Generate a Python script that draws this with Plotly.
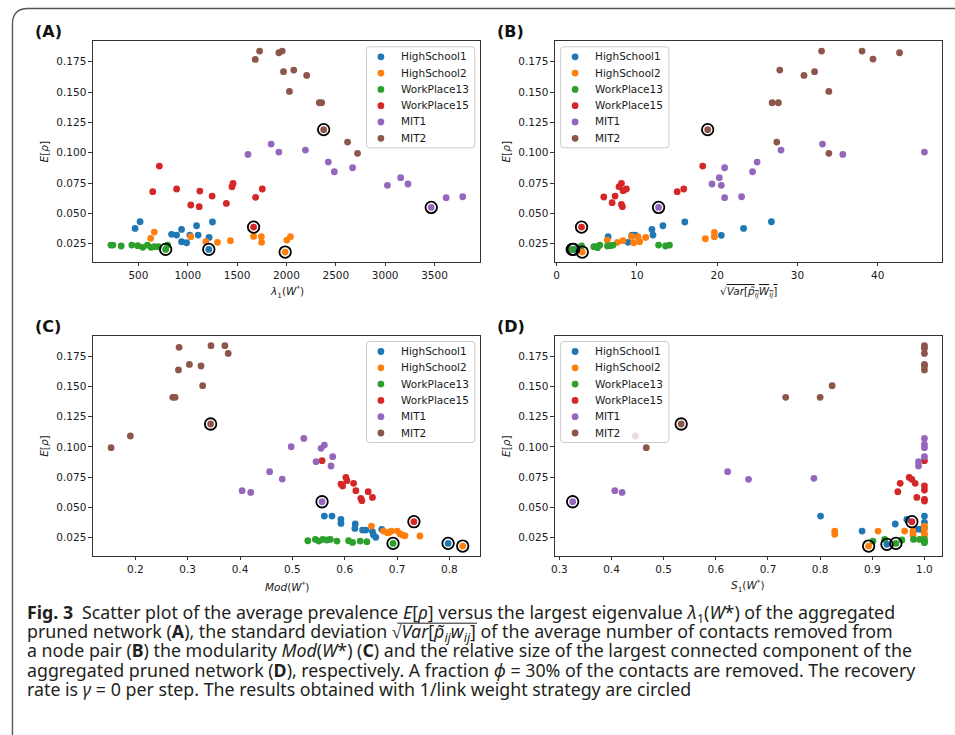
import plotly.graph_objects as go

W, H = 955, 735

datasets = ["HighSchool1", "HighSchool2", "WorkPlace13", "WorkPlace15", "MIT1", "MIT2"]
colors = ["#1f77b4", "#ff7f0e", "#2ca02c", "#d62728", "#9467bd", "#8c564b"]

# ---------------- Panel A : lambda_1(W*) ----------------
a_hs1_x = [466, 517, 836, 887, 937, 937, 988, 1021, 1089, 1105, 1216, 1250]
a_hs1_y = [0.0376, 0.0431, 0.0327, 0.0321, 0.0368, 0.0266, 0.0258, 0.0321, 0.0398, 0.0321, 0.0302, 0.0429]
a_hs2_x = [624, 661, 1031, 1183, 1301, 1432, 1667, 1745, 1748, 2004, 2040]
a_hs2_y = [0.0294, 0.0346, 0.0308, 0.0266, 0.0261, 0.0275, 0.0310, 0.0308, 0.0261, 0.0280, 0.0308]
a_wp13_x = [221, 241, 325, 433, 493, 544, 591, 628, 661, 702, 796]
a_wp13_y = [0.0239, 0.0239, 0.0231, 0.0239, 0.0234, 0.0220, 0.0239, 0.0220, 0.0225, 0.0225, 0.0239]
a_wp15_x = [712, 645, 887, 1122, 1031, 1116, 1247, 1391, 1448, 1459, 1687, 1755]
a_wp15_y = [0.0890, 0.0679, 0.0701, 0.0684, 0.0569, 0.0555, 0.0643, 0.0582, 0.0720, 0.0747, 0.0632, 0.0701]
a_mit1_x = [1610, 1845, 1923, 2192, 2424, 2485, 2670, 3023, 3157, 3231, 3618, 3786]
a_mit1_y = [0.0986, 0.1071, 0.1005, 0.1022, 0.0923, 0.0843, 0.0876, 0.0731, 0.0794, 0.0742, 0.0629, 0.0637]
a_mit2_x = [1684, 1728, 1923, 1957, 1970, 2074, 2205, 2030, 2333, 2357, 2619, 2720]
a_mit2_y = [0.1769, 0.1838, 0.1824, 0.1838, 0.1668, 0.1681, 0.1637, 0.1505, 0.1412, 0.1412, 0.1088, 0.0995]
a_circ_x = [1213, 1987, 776, 1667, 3467, 2377]
a_circ_y = [0.0203, 0.0181, 0.0203, 0.0387, 0.0549, 0.1190]

# ---------------- Panel B : sqrt(Var[p_ij W_ij]) ----------------
b_hs1_x = [6.41, 8.89, 9.39, 9.80, 11.87, 12.0, 13.24, 15.97, 20.52, 23.29, 26.76]
b_hs1_y = [0.0308, 0.0261, 0.0321, 0.0321, 0.0368, 0.0321, 0.0398, 0.0429, 0.0319, 0.0376, 0.0431]
b_hs2_x = [6.29, 7.57, 8.27, 9.31, 9.60, 10.13, 10.34, 11.09, 18.53, 19.65, 19.65]
b_hs2_y = [0.0280, 0.0261, 0.0275, 0.0310, 0.0258, 0.0308, 0.0266, 0.0302, 0.0291, 0.0343, 0.0308]
b_wp13_x = [3.10, 4.63, 4.90, 5.09, 5.38, 6.33, 6.70, 7.03, 12.70, 13.57, 14.06]
b_wp13_y = [0.0231, 0.0225, 0.0225, 0.0217, 0.0239, 0.0231, 0.0234, 0.0239, 0.0239, 0.0231, 0.0239]
b_wp15_x = [5.87, 6.91, 7.28, 7.78, 8.07, 8.07, 8.19, 8.27, 8.69, 15.02, 15.84, 18.20]
b_wp15_y = [0.0635, 0.0588, 0.0643, 0.0720, 0.0747, 0.0574, 0.0555, 0.0687, 0.0701, 0.0679, 0.0701, 0.0890]
b_mit1_x = [19.36, 20.27, 20.52, 20.93, 20.93, 23.04, 24.41, 24.98, 27.96, 33.13, 35.66, 45.83]
b_mit1_y = [0.0742, 0.0794, 0.0731, 0.0876, 0.0629, 0.0637, 0.0843, 0.0923, 0.1022, 0.1071, 0.0986, 0.1005]
b_mit2_x = [26.85, 27.63, 27.80, 27.43, 30.82, 32.14, 33.01, 33.92, 33.92, 38.06, 39.42, 42.73]
b_mit2_y = [0.1412, 0.1412, 0.1681, 0.1088, 0.1637, 0.1668, 0.1838, 0.1505, 0.0995, 0.1838, 0.1772, 0.1824]
b_circ_x = [2.10, 3.19, 1.94, 3.10, 12.70, 18.82]
b_circ_y = [0.0203, 0.0181, 0.0203, 0.0387, 0.0549, 0.1190]

# ---------------- Panel C : Mod(W*) ----------------
c_hs1_x = [0.5611, 0.5757, 0.5928, 0.5928, 0.6201, 0.6194, 0.6340, 0.6403, 0.6530, 0.6549, 0.6594, 0.6708]
c_hs1_y = [0.0429, 0.0429, 0.0401, 0.0368, 0.0363, 0.0327, 0.0313, 0.0313, 0.0300, 0.0272, 0.0253, 0.0319]
c_hs2_x = [0.6511, 0.6739, 0.6815, 0.6847, 0.6891, 0.7005, 0.7056, 0.7100, 0.7151, 0.7436]
c_hs2_y = [0.0346, 0.0305, 0.0291, 0.0294, 0.0305, 0.0305, 0.0283, 0.0272, 0.0266, 0.0264]
c_wp13_x = [0.5295, 0.5440, 0.5504, 0.5580, 0.5662, 0.5726, 0.5852, 0.6074, 0.6150, 0.6296, 0.6423]
c_wp13_y = [0.0225, 0.0236, 0.0222, 0.0236, 0.0231, 0.0236, 0.0222, 0.0225, 0.0211, 0.0222, 0.0217]
c_wp15_x = [0.5567, 0.5928, 0.5960, 0.6023, 0.6042, 0.6169, 0.6213, 0.6308, 0.6327, 0.6448, 0.6530]
c_wp15_y = [0.0886, 0.0693, 0.0677, 0.0748, 0.0721, 0.0699, 0.0638, 0.0575, 0.0556, 0.0630, 0.0583]
c_mit1_x = [0.4040, 0.4205, 0.4566, 0.4807, 0.4978, 0.5219, 0.5453, 0.5548, 0.5611, 0.5738, 0.5770]
c_mit1_y = [0.0638, 0.0624, 0.0795, 0.0734, 0.1001, 0.1070, 0.0878, 0.0988, 0.1015, 0.0842, 0.0919]
c_mit2_x = [0.1537, 0.1905, 0.2716, 0.2760, 0.2824, 0.2836, 0.3033, 0.3255, 0.3286, 0.3445, 0.3711, 0.3774]
c_mit2_y = [0.0993, 0.1090, 0.1409, 0.1409, 0.1635, 0.1822, 0.1681, 0.1668, 0.1505, 0.1836, 0.1836, 0.1772]
c_circ_x = [0.7975, 0.8254, 0.6923, 0.7322, 0.5567, 0.3438]
c_circ_y = [0.0203, 0.0181, 0.0203, 0.0382, 0.0547, 0.1189]

# ---------------- Panel D : S1(W*) ----------------
d_hs1_x = [0.8008, 0.8804, 0.9440, 0.9663, 0.9841, 0.9917, 1.0, 1.0, 1.0]
d_hs1_y = [0.0429, 0.0305, 0.0363, 0.0401, 0.0320, 0.0320, 0.0429, 0.0377, 0.0333]
d_hs2_x = [0.828, 0.828, 0.911, 0.962, 0.978, 0.978, 1.0, 1.0, 1.0, 1.0]
d_hs2_y = [0.0305, 0.0278, 0.0305, 0.0305, 0.0305, 0.0272, 0.0346, 0.0322, 0.0286, 0.0264]
d_wp13_x = [0.9014, 0.9237, 0.9567, 0.9790, 0.9904, 1.0, 1.0, 1.0]
d_wp13_y = [0.0222, 0.0236, 0.0231, 0.0236, 0.0236, 0.0236, 0.0217, 0.0209]
d_wp15_x = [0.949, 0.9535, 0.9708, 0.9759, 0.9822, 0.9854, 1.0, 1.0, 1.0, 1.0, 1.0]
d_wp15_y = [0.0630, 0.0699, 0.0748, 0.0732, 0.0699, 0.0583, 0.0886, 0.0677, 0.0644, 0.0567, 0.0553]
d_mit1_x = [0.4063, 0.4203, 0.6226, 0.6627, 0.7881, 1.0, 1.0, 1.0, 1.0, 0.9886, 0.9886]
d_mit1_y = [0.0638, 0.0624, 0.0795, 0.0732, 0.0740, 0.1070, 0.1021, 0.0993, 0.0919, 0.0878, 0.0842]
d_mit2_x = [0.4457, 0.4667, 0.734, 0.800, 0.823, 1.0, 1.0, 1.0, 1.0, 1.0, 1.0]
d_mit2_y = [0.1090, 0.0993, 0.1409, 0.1409, 0.1505, 0.1836, 0.1814, 0.1772, 0.1681, 0.1668, 0.1635]
d_circ_x = [0.9281, 0.893, 0.9453, 0.9759, 0.3255, 0.5336]
d_circ_y = [0.0195, 0.0181, 0.0203, 0.0382, 0.0547, 0.1189]

y_ticks = [0.025, 0.050, 0.075, 0.100, 0.125, 0.150, 0.175]
a_xticks = [500, 1000, 1500, 2000, 2500, 3000, 3500]
b_xticks = [0, 10, 20, 30, 40]
c_xticks = [0.2, 0.3, 0.4, 0.5, 0.6, 0.7, 0.8]
d_xticks = [0.3, 0.4, 0.5, 0.6, 0.7, 0.8, 0.9, 1.0]

panel_labels = ["(A)", "(B)", "(C)", "(D)"]
x_titles = [
    "<i>λ</i><sub>1</sub>(<i>W</i><sup>*</sup>)",
    "√<span style='text-decoration:overline'><i>Var</i>[<i>p̃</i><sub><i>ij</i></sub><i>W</i><sub><i>ij</i></sub>]</span>",
    "<i>Mod</i>(<i>W</i><sup>*</sup>)",
    "<i>S</i><sub>1</sub>(<i>W</i><sup>*</sup>)",
]
y_title = "<i>E</i>[<i>ρ</i>]"

caption_lines = [
    "<b>Fig. 3</b>\u2002Scatter plot of the average prevalence <i>E</i>[<i>ρ</i>] versus the largest eigenvalue <i>λ</i><sub>1</sub>(<i>W</i>*) of the aggregated",
    "pruned network (<b>A</b>), the standard deviation √<i>Var</i>[<i>p̃</i><sub><i>ij</i></sub><i>w</i><sub><i>ij</i></sub>] of the average number of contacts removed from",
    "a node pair (<b>B</b>) the modularity <i>Mod</i>(<i>W</i>*) (<b>C</b>) and the relative size of the largest connected component of the",
    "aggregated pruned network (<b>D</b>), respectively. A fraction <i>ϕ</i> = 30% of the contacts are removed. The recovery",
    "rate is <i>γ</i> = 0 per step. The results obtained with 1/link weight strategy are circled",
]

panel_data = [
    ([a_hs1_x, a_hs2_x, a_wp13_x, a_wp15_x, a_mit1_x, a_mit2_x],
     [a_hs1_y, a_hs2_y, a_wp13_y, a_wp15_y, a_mit1_y, a_mit2_y], a_circ_x, a_circ_y),
    ([b_hs1_x, b_hs2_x, b_wp13_x, b_wp15_x, b_mit1_x, b_mit2_x],
     [b_hs1_y, b_hs2_y, b_wp13_y, b_wp15_y, b_mit1_y, b_mit2_y], b_circ_x, b_circ_y),
    ([c_hs1_x, c_hs2_x, c_wp13_x, c_wp15_x, c_mit1_x, c_mit2_x],
     [c_hs1_y, c_hs2_y, c_wp13_y, c_wp15_y, c_mit1_y, c_mit2_y], c_circ_x, c_circ_y),
    ([d_hs1_x, d_hs2_x, d_wp13_x, d_wp15_x, d_mit1_x, d_mit2_x],
     [d_hs1_y, d_hs2_y, d_wp13_y, d_wp15_y, d_mit1_y, d_mit2_y], d_circ_x, d_circ_y),
]

# ---------------- layout geometry (pixels) ----------------
def px(x):
    return x / W

def py(y):
    return 1 - y / H

FONT = "DejaVu Sans"
TXT = "#1a1a1a"
CAP_FONT = "Noto Sans"
CAP_GLYPH = 17.8      # glyph size of the caption
CAP_LINE = 14.8       # base size -> line pitch 1.3 * 14.8 = 19.2 px

panel_geo = [
    dict(x0=89.3, x1=478.3, y0=41.0, y1=261.7, xr=[39, 3964], yr=[0.01016, 0.1921], xt=a_xticks, xf=None, leg="right"),
    dict(x0=553.3, x1=941.7, y0=41.0, y1=261.7, xr=[-0.21, 47.99], yr=[0.01016, 0.1921], xt=b_xticks, xf=None, leg="left"),
    dict(x0=89.3, x1=478.3, y0=335.7, y1=555.7, xr=[0.119, 0.859], yr=[0.01014, 0.1918], xt=c_xticks, xf=".1f", leg="right"),
    dict(x0=553.3, x1=941.7, y0=335.7, y1=555.7, xr=[0.2916, 1.0332], yr=[0.01014, 0.1918], xt=d_xticks, xf=".1f", leg="left"),
]

fig = go.Figure()

axis_common = dict(
    showline=True, mirror=True, linecolor="#333333", linewidth=1,
    ticks="outside", ticklen=3.5, tickwidth=0.9, tickcolor="#333333",
    showgrid=False, zeroline=False,
    tickfont=dict(family=FONT, size=10.5, color=TXT),
)

layout_axes = {}
for i, (g, (xs, ys, cx, cy)) in enumerate(zip(panel_geo, panel_data)):
    n = "" if i == 0 else str(i + 1)
    xa, ya = "x" + n, "y" + n
    for k in range(len(datasets)):
        fig.add_trace(go.Scatter(
            x=xs[k], y=ys[k], mode="markers", name=datasets[k], showlegend=False,
            marker=dict(color=colors[k], size=6.8, line=dict(width=0)),
            xaxis=xa, yaxis=ya, hoverinfo="skip"))
    # circled (1/link weight strategy)
    fig.add_trace(go.Scatter(
        x=cx, y=cy, mode="markers", showlegend=False,
        marker=dict(color=colors, size=6.8, line=dict(width=0)),
        xaxis=xa, yaxis=ya, hoverinfo="skip"))
    fig.add_trace(go.Scatter(
        x=cx, y=cy, mode="markers", showlegend=False,
        marker=dict(symbol="circle-open", color="black", size=11.5, line=dict(width=1.8, color="black")),
        xaxis=xa, yaxis=ya, hoverinfo="skip"))

    layout_axes["xaxis" + n] = dict(
        axis_common, domain=[px(g["x0"]), px(g["x1"])], range=g["xr"], anchor=ya,
        tickvals=g["xt"], tickformat=g["xf"] if g["xf"] else None)
    layout_axes["yaxis" + n] = dict(
        axis_common, domain=[py(g["y1"]), py(g["y0"])], range=g["yr"], anchor=xa,
        tickvals=y_ticks, tickformat=".3f")

    xc = (g["x0"] + g["x1"]) / 2
    yc = (g["y0"] + g["y1"]) / 2
    # panel label
    fig.add_annotation(x=px(g["x0"] - 60), y=py(g["y0"] - 9.5), xref="paper", yref="paper",
                       text="<b>" + panel_labels[i] + "</b>", showarrow=False,
                       xanchor="left", yanchor="middle",
                       font=dict(family=FONT, size=16, color="#111111"))
    # x title
    fig.add_annotation(x=px(xc), y=py(g["y1"] + 30.5), xref="paper", yref="paper",
                       text=x_titles[i], showarrow=False, xanchor="center", yanchor="middle",
                       font=dict(family=FONT, size=10.5, color=TXT))
    # y title
    fig.add_annotation(x=px(g["x0"] - 49), y=py(yc), xref="paper", yref="paper",
                       text=y_title, showarrow=False, textangle=-90,
                       xanchor="center", yanchor="middle",
                       font=dict(family=FONT, size=10.5, color=TXT))

    # legend (matplotlib-like frame)
    lw, lh, r = 108.7, 101.0, 3.0
    if g["leg"] == "right":
        lx = g["x1"] - 5.6 - lw
    else:
        lx = g["x0"] + 5.7
    ly = g["y0"] + 5.8
    path = (f"M {px(lx + r)},{py(ly)} L {px(lx + lw - r)},{py(ly)} "
            f"Q {px(lx + lw)},{py(ly)} {px(lx + lw)},{py(ly + r)} "
            f"L {px(lx + lw)},{py(ly + lh - r)} Q {px(lx + lw)},{py(ly + lh)} {px(lx + lw - r)},{py(ly + lh)} "
            f"L {px(lx + r)},{py(ly + lh)} Q {px(lx)},{py(ly + lh)} {px(lx)},{py(ly + lh - r)} "
            f"L {px(lx)},{py(ly + r)} Q {px(lx)},{py(ly)} {px(lx + r)},{py(ly)} Z")
    fig.add_shape(type="path", path=path, xref="paper", yref="paper", layer="above",
                  fillcolor="rgba(255,255,255,0.8)", line=dict(color="#cccccc", width=1))
    for k in range(len(datasets)):
        cyk = ly + 10.0 + k * 16.3
        cxk = lx + 14.5
        rad = 3.4
        fig.add_shape(type="circle", xref="paper", yref="paper", layer="above",
                      x0=px(cxk - rad), x1=px(cxk + rad), y0=py(cyk + rad), y1=py(cyk - rad),
                      fillcolor=colors[k], line=dict(width=0))
        fig.add_annotation(x=px(lx + 32.5), y=py(cyk - 0.5), xref="paper", yref="paper",
                           text=datasets[k], showarrow=False, xanchor="left", yanchor="middle",
                           font=dict(family=FONT, size=10.5, color=TXT))

# caption: one text block, glyphs at CAP_GLYPH px, line pitch from CAP_LINE
caption = "<br>".join(f"<span style='font-size:{CAP_GLYPH}px'>{ln}</span>" for ln in caption_lines)
fig.add_annotation(x=px(21), y=py(597.5), xref="paper", yref="paper",
                   text=caption, showarrow=False, xanchor="left", yanchor="top", align="left",
                   font=dict(family=CAP_FONT, size=CAP_LINE, color="#231f20"))
# overline of the square root in the caption (line 2)
fig.add_shape(type="line", xref="paper", yref="paper", layer="above",
              x0=px(395), x1=px(475), y0=py(623.2), y1=py(623.2),
              line=dict(color="#231f20", width=1))

# outer rounded frame (top-left corner visible)
frame = (f"M {px(8.5)},{py(740)} L {px(8.5)},{py(24)} Q {px(8.5)},{py(8.5)} {px(24)},{py(8.5)} "
         f"L {px(960)},{py(8.5)}")
fig.add_shape(type="path", path=frame, xref="paper", yref="paper", layer="above",
              line=dict(color="#555555", width=1.4))

fig.update_layout(
    width=W, height=H, margin=dict(l=0, r=0, t=0, b=0),
    paper_bgcolor="white", plot_bgcolor="white", showlegend=False,
    **layout_axes,
)

fig.write_html("out.html", config={"displayModeBar": False},
               post_script="document.body.style.margin='0px';")
